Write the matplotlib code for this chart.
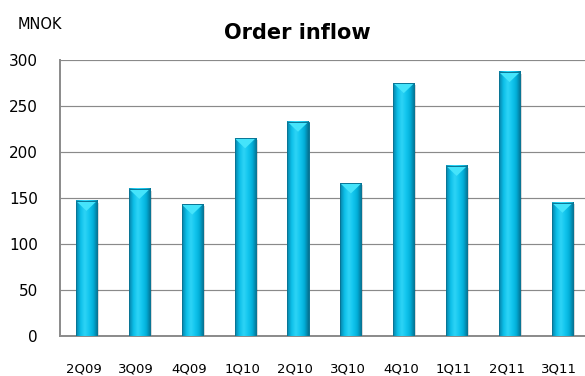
import matplotlib
matplotlib.use("Agg")
import matplotlib.pyplot as plt
import matplotlib.colors as mcolors
import matplotlib.transforms as mtransforms
from matplotlib.patches import Polygon
import numpy as np

# --- DATA ---
quarters = ["2Q09", "3Q09", "4Q09", "1Q10", "2Q10", "3Q10", "4Q10", "1Q11", "2Q11", "3Q11"]
order_inflow = [147, 160, 143, 215, 233, 166, 275, 185, 287, 145]
y_ticks = [0, 50, 100, 150, 200, 250, 300]

# --- STYLE ---
bar_width = 0.4
grid_color = "#8a8a8a"
bar_cmap = mcolors.LinearSegmentedColormap.from_list(
    "cyl", ["#0680a6", "#0cbfe8", "#2ed4f6", "#12c6ee", "#02aed8", "#056f8e"])

fig = plt.figure(figsize=(5.85, 3.76), dpi=100)
ax = fig.add_axes([0.1026, 0.1064, 0.904, 0.734])

x = np.arange(len(quarters))

# gridlines
for t in y_ticks:
    ax.axhline(t, color=grid_color, lw=0.85, zorder=1)

# bars: shadow, gradient body, top facet
grad = np.linspace(0, 1, 64).reshape(1, -1)
for xi, v in zip(x, order_inflow):
    left, right = xi - bar_width / 2, xi + bar_width / 2
    ax.bar(xi + 0.035, v - 2, width=bar_width, bottom=0, color="#000000",
           alpha=0.15, zorder=2, linewidth=0)
    ax.imshow(grad, cmap=bar_cmap, aspect="auto", extent=(left, right, 0, v),
              zorder=3, interpolation="bicubic")
    ax.add_patch(Polygon([(left, v), (right, v), (xi, v - 11)], closed=True,
                         facecolor="#45e4fb", edgecolor="none", zorder=4))
    ax.bar(xi, v, width=bar_width, fill=False, edgecolor="#0a7595",
           linewidth=0.7, zorder=5)

ax.set_xlim(-0.5, len(quarters) - 0.5)
ax.set_ylim(0, 300)

ax.set_yticks(y_ticks)
ax.set_xticks(x)
ax.set_xticklabels(quarters)
ax.tick_params(axis="y", length=0, pad=16, labelsize=11)
ax.tick_params(axis="x", length=0, pad=19, labelsize=9.5)
shift = mtransforms.ScaledTranslation(-3 / 100, 0, fig.dpi_scale_trans)
for lab in ax.get_xticklabels():
    lab.set_transform(lab.get_transform() + shift)

for side in ["top", "right"]:
    ax.spines[side].set_visible(False)
for side in ["left", "bottom"]:
    ax.spines[side].set_color(grid_color)
    ax.spines[side].set_linewidth(1.4)

fig.text(0.508, 0.912, "Order inflow", ha="center", va="center",
         fontsize=15, fontweight="bold")
fig.text(0.068, 0.936, "MNOK", ha="center", va="center", fontsize=10.5)

fig.savefig("out.png", dpi=100, facecolor="white")
